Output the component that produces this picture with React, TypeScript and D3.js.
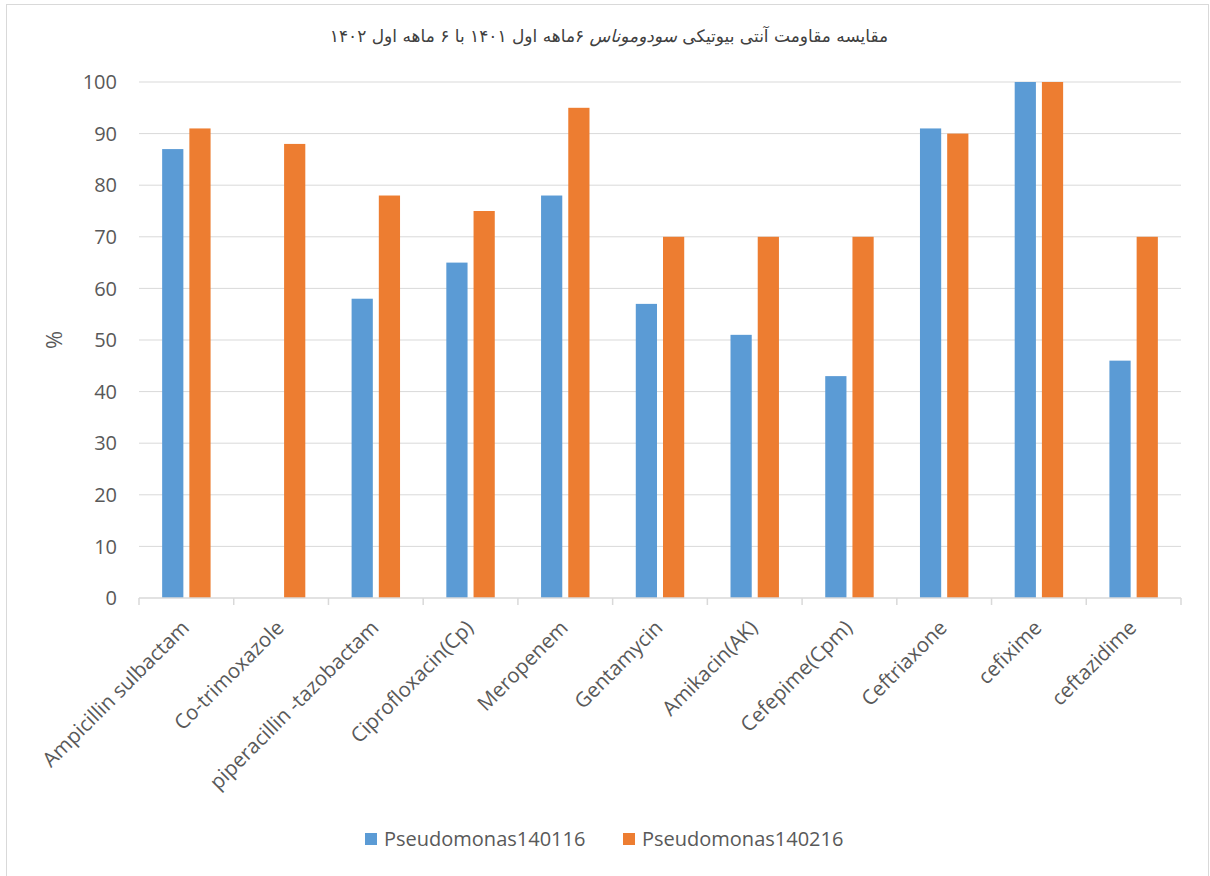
import React from "react";
import * as d3 from "d3";

const categories = [
  "Ampicillin sulbactam",
  "Co-trimoxazole",
  "piperacillin -tazobactam",
  "Ciprofloxacin(Cp)",
  "Meropenem",
  "Gentamycin",
  "Amikacin(AK)",
  "Cefepime(Cpm)",
  "Ceftriaxone",
  "cefixime",
  "ceftazidime",
];
const series1Name = "Pseudomonas140116";
const series2Name = "Pseudomonas140216";
const series1: (number | null)[] = [87, null, 58, 65, 78, 57, 51, 43, 91, 100, 46];
const series2: (number | null)[] = [91, 88, 78, 75, 95, 70, 70, 70, 90, 100, 70];
const yTicks = [0, 10, 20, 30, 40, 50, 60, 70, 80, 90, 100];

const W = 1210;
const H = 876;
const left = 139;
const right = 1181;
const top = 82;
const bottom = 598;
const blue = "#5b9bd5";
const orange = "#ed7d31";
const textColor = "#595959";
const font = "'Open Sans', 'Liberation Sans', Arial, sans-serif";

export default function App() {
  const x = d3.scaleBand<string>().domain(categories).range([left, right]).padding(0);
  const y = d3.scaleLinear().domain([0, 100]).range([bottom, top]);
  const bw = x.bandwidth();
  const barW = bw * 0.224;
  const gap = 6;

  return (
    <svg width={W} height={H} style={{ position: "absolute", left: 0, top: 0 }}>
      <rect x={0} y={0} width={W} height={H} fill="#fff" />
      <rect x={6.5} y={4.5} width={1202} height={880} fill="#fff" stroke="#d9d9d9" strokeWidth={1} />
      <text
        x={609}
        y={42}
        textAnchor="middle"
        direction="rtl"
        fontFamily="'DejaVu Sans', sans-serif"
        fontSize={17}
        fill="#404040"
      >
        <tspan>مقایسه مقاومت آنتی بیوتیکی </tspan>
        <tspan fontStyle="italic">سودوموناس</tspan>
        <tspan> ۶ماهه اول ۱۴۰۱ با ۶ ماهه اول ۱۴۰۲</tspan>
      </text>
      {yTicks.map((t) => (
        <g key={t}>
          {t > 0 && (
            <line x1={left} x2={right} y1={y(t)} y2={y(t)} stroke="#d9d9d9" strokeWidth={1} />
          )}
          <text
            x={117}
            y={y(t)}
            dy="0.36em"
            textAnchor="end"
            fontFamily={font}
            fontSize={20}
            fill={textColor}
          >
            {t}
          </text>
        </g>
      ))}
      <text
        transform={`translate(62,340) rotate(-90)`}
        textAnchor="middle"
        fontFamily={font}
        fontSize={22}
        fill={textColor}
      >
        %
      </text>
      {categories.map((c, i) => {
        const x0 = x(c)!;
        const cx = x0 + bw / 2;
        const v1 = series1[i];
        const v2 = series2[i];
        return (
          <g key={c}>
            {v1 != null && (
              <rect x={cx - gap / 2 - barW} y={y(v1)} width={barW} height={y(0) - y(v1)} fill={blue} />
            )}
            {v2 != null && (
              <rect x={cx + gap / 2} y={y(v2)} width={barW} height={y(0) - y(v2)} fill={orange} />
            )}
          </g>
        );
      })}
      <line x1={left} x2={right} y1={bottom} y2={bottom} stroke="#d9d9d9" strokeWidth={1.5} />
      {d3.range(categories.length + 1).map((i) => {
        const xx = left + i * bw;
        return <line key={i} x1={xx} x2={xx} y1={bottom} y2={bottom + 7} stroke="#d9d9d9" strokeWidth={1.5} />;
      })}
      {categories.map((c) => {
        const cx = x(c)! + bw / 2 + 4;
        return (
          <text
            key={c}
            transform={`translate(${cx},${bottom + 31}) rotate(-45)`}
            textAnchor="end"
            fontFamily={font}
            fontSize={20.5}
            fill={textColor}
          >
            {c}
          </text>
        );
      })}
      <rect x={365} y={833} width={12} height={12} fill={blue} />
      <text x={384} y={839} dy="0.36em" fontFamily={font} fontSize={20} fill={textColor}>
        {series1Name}
      </text>
      <rect x={623} y={833} width={12} height={12} fill={orange} />
      <text x={642} y={839} dy="0.36em" fontFamily={font} fontSize={20} fill={textColor}>
        {series2Name}
      </text>
    </svg>
  );
}
